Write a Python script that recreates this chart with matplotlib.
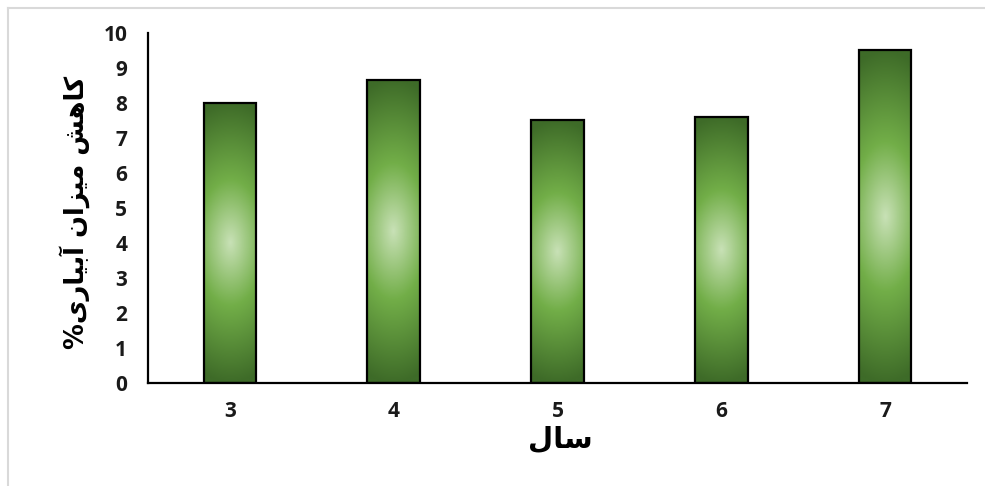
import numpy as np
import matplotlib
matplotlib.use("Agg")
import matplotlib.pyplot as plt
from matplotlib.colors import LinearSegmentedColormap
from matplotlib.lines import Line2D

# data
years = ["3", "4", "5", "6", "7"]
reduction = [8.0, 8.66, 7.5, 7.6, 9.5]
yticks = list(range(0, 11))

# Persian labels written in presentation forms, visual (left-to-right) order
xlabel = "\uFEDD\uFE8E\uFEB3"  # سال
ylabel = ("%" + "\uFBFC\uFEAD\uFE8E\uFBFF\uFE91\uFE81" + " "
          + "\uFEE5\uFE8D\uFEB0\uFBFF\uFEE3" + " "
          + "\uFEB6\uFEEB\uFE8E\uFB90")  # کاهش میزان آبیاری%

cmap = LinearSegmentedColormap.from_list(
    "grn", [(0, "#c8e1b6"), (0.45, "#72ae48"), (1.0, "#3e6b28")])

fig = plt.figure(figsize=(9.85, 4.86), dpi=100)
ax = fig.add_axes([148/985, 1-383/486, 819/985, 350/486])

w = 0.32
gx, gy = np.meshgrid(np.linspace(-1, 1, 60), np.linspace(-1, 1, 300))
dist = np.clip(np.sqrt((0.35*gx)**2 + gy**2), 0, 1)
for i, v in enumerate(reduction):
    ax.imshow(cmap(dist), extent=[i-w/2, i+w/2, 0, v], aspect="auto",
              origin="lower", zorder=2, interpolation="bilinear")
    ax.bar(i, v, width=w, facecolor="none", edgecolor="black", lw=1.6, zorder=3)

ax.set_xlim(-0.5, 4.5)
ax.set_ylim(0, 10)
ax.set_xticks(range(len(years)))
ax.set_xticklabels(years)
ax.set_yticks(yticks)
for s in ["top", "right"]:
    ax.spines[s].set_visible(False)
ax.spines["left"].set_linewidth(1.6)
ax.spines["bottom"].set_linewidth(1.6)
ax.tick_params(length=0, labelsize=15)
ax.tick_params(axis="x", pad=13)
ax.tick_params(axis="y", pad=15)
for lab in ax.get_xticklabels() + ax.get_yticklabels():
    lab.set_fontweight("bold")
    lab.set_fontfamily("Open Sans")
    lab.set_color("#1a1a1a")

fig.text(75/985, 1-212/486, ylabel, rotation=90, ha="center", va="center",
         fontsize=18.5, fontweight="bold", family=["DejaVu Sans"])
fig.text(560/985, 1-440/486, xlabel, ha="center", va="center",
         fontsize=21, fontweight="bold", family=["DejaVu Sans"])

# light frame of the chart area
fig.add_artist(Line2D([8/985, 1], [1-8/486, 1-8/486], color="#d9d9d9", lw=1.5))
fig.add_artist(Line2D([8/985, 8/985], [0, 1-8/486], color="#d9d9d9", lw=1.5))

fig.savefig("out.png", dpi=100)
